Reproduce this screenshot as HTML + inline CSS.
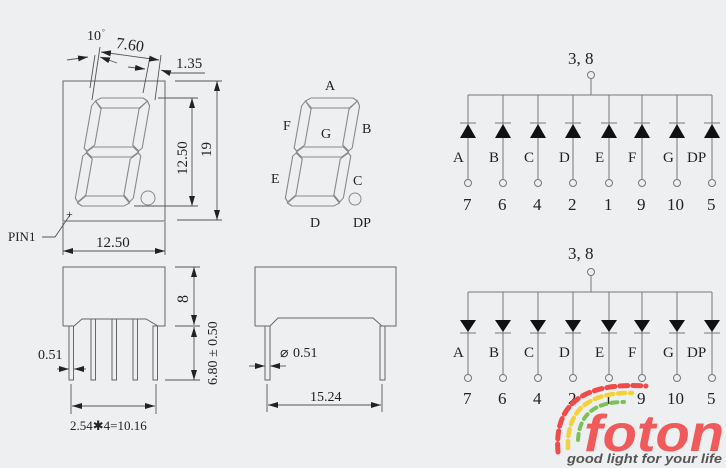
<!DOCTYPE html>
<html><head><meta charset="utf-8"><style>
html,body{margin:0;padding:0;background:#eeeff0;}
svg{display:block;}
text{font-family:"Liberation Serif",serif;fill:#222;}
</style></head><body>
<svg width="726" height="468" viewBox="0 0 726 468" xmlns="http://www.w3.org/2000/svg">
<defs>
<marker id="ar" viewBox="0 0 10 6" refX="10" refY="3" markerWidth="10" markerHeight="6" orient="auto-start-reverse" markerUnits="userSpaceOnUse"><path d="M0,0 L10,3 L0,6 z" fill="#222"/></marker>
<g id="digit" fill="none" stroke="#888" stroke-width="1.1">
<polygon points="3,3 8,0 50,0 55,3 48,10 10,10"/>
<polygon points="3,54 9,49 49,49 55,54 49,59 9,59"/>
<polygon points="3,105 10,98 48,98 55,105 50,108 8,108"/>
<polygon points="0,8 3,3 10,11 10,47 3,53 0,50"/>
<polygon points="58,8 55,3 48,11 48,47 55,53 58,50"/>
<polygon points="0,58 3,55 10,61 10,97 3,104 0,100"/>
<polygon points="58,58 55,55 48,61 48,97 55,104 58,100"/>
</g>
</defs>
<rect width="726" height="468" fill="#eeeff0"/>

<!-- LEFT FRONT VIEW -->
<rect x="63" y="81" width="102" height="140" fill="none" stroke="#666"/>
<g transform="translate(93,98) skewX(-10)"><use href="#digit"/></g>
<circle cx="148" cy="198" r="7" fill="none" stroke="#888"/>
<g stroke="#555" stroke-width="0.9" fill="none">
<line x1="90" y1="88" x2="95" y2="55"/>
<line x1="92" y1="100" x2="100" y2="47"/>
<line x1="143" y1="93" x2="150" y2="57"/>
<line x1="155" y1="100" x2="161" y2="55"/>
<line x1="67" y1="60" x2="88" y2="57" marker-end="url(#ar)"/>
<line x1="101" y1="52" x2="159" y2="60" marker-start="url(#ar)" marker-end="url(#ar)"/>
<line x1="100" y1="57" x2="117" y2="63" marker-start="url(#ar)"/>
<line x1="128" y1="67" x2="145" y2="69" marker-end="url(#ar)"/>
<line x1="161" y1="70" x2="170" y2="73" marker-start="url(#ar)"/>
<line x1="170" y1="73" x2="205" y2="73"/>
<line x1="158" y1="98" x2="198" y2="98"/>
<line x1="134" y1="206" x2="198" y2="206"/>
<line x1="192" y1="98" x2="192" y2="206" marker-start="url(#ar)" marker-end="url(#ar)"/>
<line x1="175" y1="81" x2="222" y2="81"/>
<line x1="177" y1="220" x2="222" y2="220"/>
<line x1="217" y1="81" x2="217" y2="220" marker-start="url(#ar)" marker-end="url(#ar)"/>
<line x1="63" y1="222" x2="63" y2="255"/>
<line x1="165" y1="222" x2="165" y2="255"/>
<line x1="63" y1="251" x2="165" y2="251" marker-start="url(#ar)" marker-end="url(#ar)"/>
<polyline points="42,237 55,237 70,215"/>
</g>
<text x="87" y="40" font-size="14">10</text><text x="102" y="34" font-size="7">°</text>
<text x="116" y="50" font-size="16" transform="rotate(8 130 45)">7.60</text>
<text x="176" y="68" font-size="15">1.35</text>
<text x="0" y="0" font-size="15" transform="translate(187,175) rotate(-90)">12.50</text>
<text x="0" y="0" font-size="15" transform="translate(211,157) rotate(-90)">19</text>
<text x="66" y="218" font-size="12">+</text>
<text x="8" y="241" font-size="13">PIN1</text>
<text x="96" y="247" font-size="15">12.50</text>

<!-- LEFT SIDE VIEW -->
<g stroke="#666" stroke-width="1" fill="none">
<polyline points="63,326 63,267 165,267 165,326 158,326 146,319 82,319 74,326 63,326"/>
<rect x="69" y="326" width="4.5" height="54"/>
<rect x="91" y="319" width="4.5" height="61"/>
<rect x="112" y="319" width="4.5" height="61"/>
<rect x="133" y="319" width="4.5" height="61"/>
<rect x="153" y="326" width="4.5" height="54"/>
</g>
<g stroke="#555" stroke-width="0.9" fill="none">
<line x1="175" y1="267" x2="200" y2="267"/>
<line x1="175" y1="326" x2="200" y2="326"/>
<line x1="165" y1="380" x2="200" y2="380"/>
<line x1="194" y1="267" x2="194" y2="325" marker-start="url(#ar)" marker-end="url(#ar)"/>
<line x1="194" y1="327" x2="194" y2="380" marker-start="url(#ar)" marker-end="url(#ar)"/>
<line x1="57" y1="369" x2="69" y2="369" marker-end="url(#ar)"/>
<line x1="86" y1="369" x2="74" y2="369" marker-end="url(#ar)"/>
<line x1="71" y1="384" x2="71" y2="414"/>
<line x1="156" y1="384" x2="156" y2="414"/>
<line x1="72" y1="406" x2="155" y2="406" marker-start="url(#ar)" marker-end="url(#ar)"/>
</g>
<text x="0" y="0" font-size="16" transform="translate(188,303) rotate(-90)">8</text>
<text x="0" y="0" font-size="14" transform="translate(217,385) rotate(-90)">6.80 ± 0.50</text>
<text x="38" y="359" font-size="14">0.51</text>
<text x="70" y="430" font-size="13">2.54✱4=10.16</text>

<!-- RIGHT SIDE VIEW -->
<g stroke="#666" stroke-width="1" fill="none">
<polyline points="255,326 255,267 396,267 396,326 382,326 373,318 278,318 270,326 255,326"/>
<rect x="265" y="326" width="5" height="54"/>
<rect x="380" y="326" width="5" height="54"/>
</g>
<g stroke="#555" stroke-width="0.9" fill="none">
<line x1="249" y1="366" x2="265" y2="366" marker-end="url(#ar)"/>
<line x1="286" y1="366" x2="270" y2="366" marker-end="url(#ar)"/>
<line x1="267" y1="384" x2="267" y2="412"/>
<line x1="382" y1="384" x2="382" y2="412"/>
<line x1="268" y1="405" x2="381" y2="405" marker-start="url(#ar)" marker-end="url(#ar)"/>
</g>
<text x="280" y="357" font-size="14">⌀</text>
<text x="293" y="357" font-size="14">0.51</text>
<text x="310" y="401" font-size="14">15.24</text>

<!-- MIDDLE DIGIT -->
<g transform="translate(303,98) skewX(-10)"><use href="#digit"/></g>
<circle cx="355" cy="199" r="6" fill="none" stroke="#888"/>
<g font-size="14">
<text x="325" y="90">A</text>
<text x="283" y="130">F</text>
<text x="321" y="138">G</text>
<text x="362" y="133">B</text>
<text x="271" y="183">E</text>
<text x="353" y="185">C</text>
<text x="310" y="227">D</text>
<text x="353" y="227">DP</text>
</g>

<!-- SCHEMATIC TOP -->
<g stroke="#777" stroke-width="1" fill="none">
<circle cx="591" cy="75" r="3.5"/>
<line x1="591" y1="79" x2="591" y2="95"/>
<line x1="468" y1="95" x2="712" y2="95"/>
<line x1="468" y1="95" x2="468" y2="179"/><line x1="503" y1="95" x2="503" y2="179"/><line x1="538" y1="95" x2="538" y2="179"/><line x1="573" y1="95" x2="573" y2="179"/><line x1="609" y1="95" x2="609" y2="179"/><line x1="642" y1="95" x2="642" y2="179"/><line x1="677" y1="95" x2="677" y2="179"/><line x1="712" y1="95" x2="712" y2="179"/>
<circle cx="468" cy="183" r="3.5"/><circle cx="503" cy="183" r="3.5"/><circle cx="538" cy="183" r="3.5"/><circle cx="573" cy="183" r="3.5"/><circle cx="609" cy="183" r="3.5"/><circle cx="642" cy="183" r="3.5"/><circle cx="677" cy="183" r="3.5"/><circle cx="712" cy="183" r="3.5"/>
<path d="M460,123h16M495,123h16M530,123h16M565,123h16M601,123h16M634,123h16M669,123h16M704,123h16"/>
</g>
<g fill="#111">
<polygon points="468,124 460,138 476,138"/><polygon points="503,124 495,138 511,138"/><polygon points="538,124 530,138 546,138"/><polygon points="573,124 565,138 581,138"/><polygon points="609,124 601,138 617,138"/><polygon points="642,124 634,138 650,138"/><polygon points="677,124 669,138 685,138"/><polygon points="712,124 704,138 720,138"/>
</g>
<text x="568" y="64" font-size="17">3, 8</text>
<g font-size="15">
<text x="453" y="162">A</text><text x="489" y="162">B</text><text x="524" y="162">C</text><text x="559" y="162">D</text><text x="595" y="162">E</text><text x="628" y="162">F</text><text x="663" y="162">G</text><text x="687" y="162">DP</text>
</g>
<g font-size="17">
<text x="463" y="210">7</text><text x="498" y="210">6</text><text x="533" y="210">4</text><text x="568" y="210">2</text><text x="604" y="210">1</text><text x="637" y="210">9</text><text x="667" y="210">10</text><text x="707" y="210">5</text>
</g>

<!-- SCHEMATIC BOTTOM -->
<g stroke="#777" stroke-width="1" fill="none">
<circle cx="591" cy="272" r="3.5"/>
<line x1="591" y1="276" x2="591" y2="292"/>
<line x1="468" y1="292" x2="712" y2="292"/>
<line x1="468" y1="292" x2="468" y2="374"/><line x1="503" y1="292" x2="503" y2="374"/><line x1="538" y1="292" x2="538" y2="374"/><line x1="573" y1="292" x2="573" y2="374"/><line x1="609" y1="292" x2="609" y2="374"/><line x1="642" y1="292" x2="642" y2="374"/><line x1="677" y1="292" x2="677" y2="374"/><line x1="712" y1="292" x2="712" y2="374"/>
<circle cx="468" cy="378" r="3.5"/><circle cx="503" cy="378" r="3.5"/><circle cx="538" cy="378" r="3.5"/><circle cx="573" cy="378" r="3.5"/><circle cx="609" cy="378" r="3.5"/><circle cx="642" cy="378" r="3.5"/><circle cx="677" cy="378" r="3.5"/><circle cx="712" cy="378" r="3.5"/>
<path d="M460,333h16M495,333h16M530,333h16M565,333h16M601,333h16M634,333h16M669,333h16M704,333h16"/>
</g>
<g fill="#111">
<polygon points="468,332 460,320 476,320"/><polygon points="503,332 495,320 511,320"/><polygon points="538,332 530,320 546,320"/><polygon points="573,332 565,320 581,320"/><polygon points="609,332 601,320 617,320"/><polygon points="642,332 634,320 650,320"/><polygon points="677,332 669,320 685,320"/><polygon points="712,332 704,320 720,320"/>
</g>
<text x="568" y="259" font-size="17">3, 8</text>
<g font-size="15">
<text x="453" y="357">A</text><text x="489" y="357">B</text><text x="524" y="357">C</text><text x="559" y="357">D</text><text x="595" y="357">E</text><text x="628" y="357">F</text><text x="663" y="357">G</text><text x="687" y="357">DP</text>
</g>
<g font-size="17">
<text x="463" y="404">7</text><text x="498" y="404">6</text><text x="533" y="404">4</text><text x="568" y="404">2</text><text x="604" y="404">1</text><text x="637" y="404">9</text><text x="667" y="404">10</text><text x="707" y="404">5</text>
</g>

<!-- LOGO -->
<g fill="none" stroke-linecap="round">
<path d="M558,452 Q552,380 646,386" stroke="#ef4b4b" stroke-width="5" stroke-dasharray="8 5"/>
<path d="M568,448 Q566,392 632,393" stroke="#f2d23a" stroke-width="4.5" stroke-dasharray="7 5"/>
<path d="M578,440 Q580,402 624,402" stroke="#7cc05a" stroke-width="4" stroke-dasharray="6 5"/>
</g>
<text x="584" y="451" font-size="52" font-weight="bold" font-style="italic" style="fill:#f05a5a;font-family:'Liberation Sans',sans-serif" textLength="140" lengthAdjust="spacingAndGlyphs">foton</text>
<text x="567" y="463" font-size="13" font-weight="bold" font-style="italic" style="fill:#555;font-family:'Liberation Sans',sans-serif" textLength="155" lengthAdjust="spacingAndGlyphs">good light for your life</text>
</svg>
</body></html>
